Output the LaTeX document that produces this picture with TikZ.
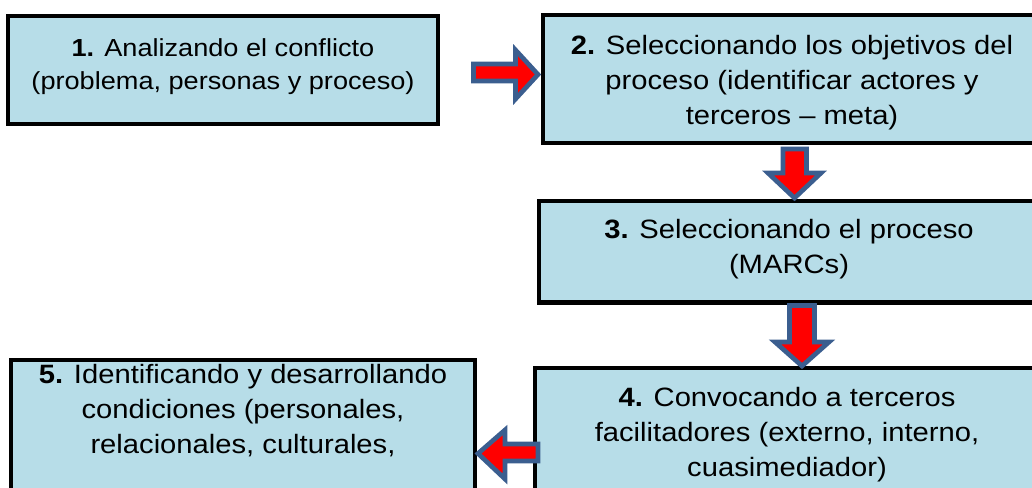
\documentclass[tikz,border=0pt]{standalone}
\usepackage{fontspec}
\setmainfont{Liberation Sans}[FakeStretch=1.1]
\definecolor{boxfill}{HTML}{B7DDE8}
\definecolor{arrowline}{HTML}{3B5E8F}
\definecolor{arrowfill}{HTML}{FF0000}
\begin{document}
\begin{tikzpicture}[x=0.75pt, y=-0.75pt,
  box/.style={draw=black, line width=3.5pt, fill=boxfill, inner sep=0pt, rectangle},
  txt/.style={align=center, inner sep=0pt, anchor=base, text=black, font=\fontsize{19.9}{26.25}\selectfont},
  txtsmall/.style={txt, font=\fontsize{18.5}{24.75}\selectfont},
  blockarrow/.style={draw=arrowline, fill=arrowfill, line width=3.5pt, line join=miter}]
\useasboundingbox (0,0) rectangle (1032,487);
\clip (0,0) rectangle (1032,487);
% boxes
\node[box, minimum width=322.5pt, minimum height=81pt] (b1) at (223,70) {};
\node[box, minimum width=373.5pt, minimum height=96pt] (b2) at (792,79) {};
\node[box, minimum width=375pt, minimum height=76.1pt] (b3) at (789,251.75) {};
\node[box, minimum width=378pt, minimum height=129pt] (b4) at (787,454) {};
\node[box, minimum width=348pt, minimum height=127.5pt] (b5) at (243,445) {};
% texts (base anchor = baseline of the last line)
\node[txtsmall] (t1) at (223,89) {\textbf{1.} Analizando el conflicto\\(problema, personas y proceso)};
\node[txt] (t2) at (792,124) {\textbf{2.} Seleccionando los objetivos del\\proceso (identificar actores y\\terceros -- meta)};
\node[txt] (t3) at (789,273) {\textbf{3.} Seleccionando el proceso\\(MARCs)};
\node[txt] (t4) at (787,476) {\textbf{4.} Convocando a terceros\\facilitadores (externo, interno,\\cuasimediador)};
\node[txt] (t5) at (243,453) {\textbf{5.} Identificando y desarrollando\\condiciones (personales,\\relacionales, culturales,};
% block arrows
\draw[blockarrow] (473.5,64) -- (515.5,64) -- (515.5,50) -- (538,74.5) -- (515.5,99) -- (515.5,81) -- (473.5,81) -- cycle;
\draw[blockarrow] (783,149) -- (806.5,149) -- (806.5,173) -- (821,173) -- (794.5,198) -- (768,173) -- (783,173) -- cycle;
\draw[blockarrow] (789.5,305.5) -- (814.5,305.5) -- (814.5,342) -- (829,342) -- (802,366) -- (775,342) -- (789.5,342) -- cycle;
\draw[blockarrow] (538,444) -- (505,444) -- (505,430) -- (478,453.5) -- (505,479) -- (505,461) -- (538,461) -- cycle;
\end{tikzpicture}
\end{document}
